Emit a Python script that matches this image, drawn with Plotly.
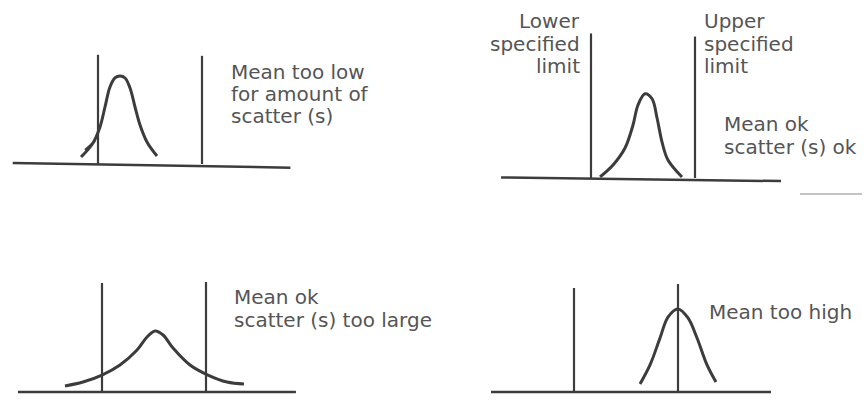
import plotly.graph_objects as go

# ---------------- data (panel-local units: lower limit = 0, upper limit = 10) ----------------
limit_x = [0, 10]

# Panel 1: mean too low
p1_curve_x = [-1.63, -0.48, 0.19, 0.67, 1.15, 1.63, 2.12, 2.60, 3.08, 3.56, 4.04, 4.71, 5.67]
p1_curve_y = [0.67, 2.02, 3.56, 5.48, 7.40, 8.27, 8.46, 8.27, 7.31, 5.48, 3.75, 2.12, 0.77]
p1_limit_top = [10.5, 10.4]
p1_base_x = [-8.2, 18.5]
p1_base_y = [0.1, -0.35]
p1_mark_x = [-1.25, -0.29]
p1_mark_y = [1.35, 2.21]
p1_text = ["Mean too low", "for amount of", "scatter (s)"]

# Panel 2: mean ok, scatter ok
p2_curve_x = [0.87, 2.12, 3.27, 4.04, 4.52, 5.19, 5.87, 6.35, 6.83, 7.40, 8.75]
p2_curve_y = [0.10, 1.25, 2.88, 5.10, 7.02, 8.10, 7.62, 5.77, 3.46, 1.73, 0.10]
p2_limit_top = [13.9, 13.6]
p2_base_x = [-8.65, 18.27]
p2_base_y = [0.05, -0.3]
p2_lower_label = ["Lower", "specified", "limit"]
p2_upper_label = ["Upper", "specified", "limit"]
p2_text = ["Mean ok", "scatter (s) ok"]

# Panel 3: mean ok, scatter too large
p3_curve_x = [-3.56, -1.83, 0.0, 1.73, 3.37, 4.33, 5.10, 5.87, 6.83, 8.46, 10.19, 12.02, 13.65]
p3_curve_y = [0.58, 0.96, 1.63, 2.60, 4.04, 5.29, 5.87, 5.48, 4.23, 2.60, 1.63, 0.96, 0.77]
p3_limit_top = [10.48, 10.58]
p3_base_x = [-8.08, 18.65]
p3_base_y = [0.0, 0.0]
p3_text = ["Mean ok", "scatter (s) too large"]

# Panel 4: mean too high
p4_curve_x = [6.35, 7.31, 8.27, 9.04, 10.0, 10.96, 11.83, 12.79, 13.65]
p4_curve_y = [0.77, 2.60, 5.19, 7.21, 7.98, 7.12, 5.19, 2.60, 0.96]
p4_limit_top = [10.0, 10.38]
p4_base_x = [-7.98, 18.94]
p4_base_y = [0.0, 0.0]
p4_text = ["Mean too high"]

# ---------------- layout constants ----------------
W, H = 866, 400
S = 10.4  # px per unit
INK = "#3c3c3c"
TXT = "#555555"
FONT = dict(family="DejaVu Sans", size=20, color=TXT)

# (lower-limit pixel x, baseline pixel y) for each panel
anchors = [(98, 164), (591, 178), (102, 392), (574, 392)]
panels = [
    (p1_curve_x, p1_curve_y, p1_limit_top, p1_base_x, p1_base_y),
    (p2_curve_x, p2_curve_y, p2_limit_top, p2_base_x, p2_base_y),
    (p3_curve_x, p3_curve_y, p3_limit_top, p3_base_x, p3_base_y),
    (p4_curve_x, p4_curve_y, p4_limit_top, p4_base_x, p4_base_y),
]

fig = go.Figure()
layout_axes = {}
for i, ((cx, cy, ltop, bx, byv), (ax, by)) in enumerate(zip(panels, anchors), start=1):
    xa = "x" if i == 1 else f"x{i}"
    ya = "y" if i == 1 else f"y{i}"
    # baseline
    fig.add_trace(go.Scatter(x=bx, y=byv, mode="lines", xaxis=xa, yaxis=ya,
                             line=dict(color=INK, width=2.5), hoverinfo="skip"))
    # limit lines
    for lx, top in zip(limit_x, ltop):
        fig.add_trace(go.Scatter(x=[lx, lx], y=[0, top], mode="lines", xaxis=xa, yaxis=ya,
                                 line=dict(color=INK, width=2.2), hoverinfo="skip"))
    # distribution curve
    fig.add_trace(go.Scatter(x=cx, y=cy, mode="lines", xaxis=xa, yaxis=ya,
                             line=dict(color=INK, width=3, shape="spline", smoothing=1.0),
                             hoverinfo="skip"))
    xr = [-ax / S, (W - ax) / S]
    yr = [-(H - by) / S, by / S]
    kx = "xaxis" if i == 1 else f"xaxis{i}"
    ky = "yaxis" if i == 1 else f"yaxis{i}"
    layout_axes[kx] = dict(range=xr, domain=[0, 1], visible=False, fixedrange=True,
                           anchor=ya)
    layout_axes[ky] = dict(range=yr, domain=[0, 1], visible=False, fixedrange=True,
                           anchor=xa)

# small hand-drawn stroke across the tail in panel 1
fig.add_trace(go.Scatter(x=p1_mark_x, y=p1_mark_y, mode="lines", xaxis="x", yaxis="y",
                         line=dict(color=INK, width=2.2), hoverinfo="skip"))

annotations = []


def add_lines(lines, px, pys, anchor="left"):
    for t, py in zip(lines, pys):
        annotations.append(dict(text=t, x=px / W, y=1 - py / H, xref="paper", yref="paper",
                                xanchor=anchor, yanchor="middle", showarrow=False,
                                font=FONT))


add_lines(p1_text, 229, [72, 94, 116])
add_lines(p2_lower_label, 582, [21, 44, 66], anchor="right")
add_lines(p2_upper_label, 702, [21, 44, 66])
add_lines(p2_text, 722, [124, 147])
add_lines(p3_text, 232, [297, 320])
add_lines(p4_text, 707, [312])

fig.update_layout(
    width=W, height=H,
    margin=dict(l=0, r=0, t=0, b=0),
    paper_bgcolor="white", plot_bgcolor="rgba(0,0,0,0)",
    showlegend=False,
    hovermode=False,
    annotations=annotations,
    shapes=[dict(type="line", xref="paper", yref="paper",
                 x0=800 / W, x1=862 / W, y0=1 - 194 / H, y1=1 - 194 / H,
                 line=dict(color="#c4c4c4", width=2))],
    **layout_axes,
)

fig.write_html(
    "out.html",
    config={"displayModeBar": False, "staticPlot": True},
    post_script="document.body.style.margin='0';document.body.style.padding='0';"
                "document.body.style.overflow='hidden';",
)
